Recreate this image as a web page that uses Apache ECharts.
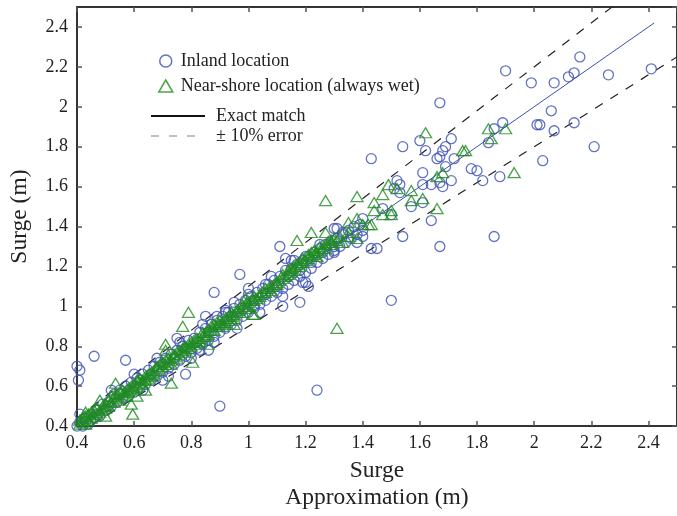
<!DOCTYPE html>
<html>
<head>
<meta charset="utf-8">
<script src="https://cdn.jsdelivr.net/npm/echarts@6/dist/echarts.min.js"></script>
<style>
  html, body { margin: 0; padding: 0; background: #fff; }
  #chart { width: 677px; height: 516px; }
</style>
</head>
<body>
<div id="chart"></div>
<script>
// Surge from the full model (y) against the approximation (x), in metres.

// Inland gauges: points scattered off the 1:1 line
const inlandSparse = [
  [1.90,2.18],[2.16,2.25],[1.99,2.12],[2.07,2.12],[2.12,2.15],[2.14,2.17],[2.26,2.16],[2.41,2.19],
  [2.06,1.98],[1.89,1.92],[2.01,1.91],[2.02,1.91],[2.07,1.88],[2.14,1.92],[2.21,1.80],[2.03,1.73],
  [1.86,1.89],[1.84,1.82],[1.82,1.63],[1.88,1.65],[1.86,1.35],[1.80,1.68],
  [1.67,2.02],[1.43,1.74],[1.54,1.80],[1.60,1.83],[1.62,1.78],[1.71,1.84],[1.69,1.80],[1.68,1.78],
  [1.66,1.74],[1.67,1.75],[1.72,1.74],[1.69,1.70],[1.61,1.67],[1.78,1.69],[1.71,1.63],[1.64,1.61],
  [1.67,1.62],[1.68,1.60],[1.61,1.61],[1.52,1.63],[1.51,1.59],[1.53,1.61],[1.53,1.57],[1.61,1.52],
  [1.57,1.50],[1.64,1.43],[1.47,1.49],[1.50,1.46],[1.54,1.35],[1.67,1.30],[1.40,1.44],[1.30,1.39],
  [1.33,1.37],[1.43,1.29],[1.45,1.29],[1.30,1.27],
  [1.11,1.30],[0.97,1.16],[0.88,1.07],[1.38,1.32],[1.40,1.35],[1.31,1.39],[1.25,1.31],[1.18,1.02],
  [1.12,1.00],[1.50,1.03],[1.00,1.09],[1.06,1.11],[1.15,1.23],[1.13,1.24],[1.20,1.25],[1.21,1.10],
  [1.19,1.12],[0.46,0.75],[0.57,0.73],[0.40,0.70],[0.41,0.68],[0.405,0.63],[0.90,0.50],[0.78,0.66],
  [0.85,0.95],[0.75,0.84],[0.92,0.97],[0.89,0.95],[0.95,1.02],[1.02,1.00],[0.70,0.63],[0.86,0.78],
  [0.83,0.78],[0.41,0.46],[1.24,0.58]
];

// Inland gauges: the dense band along the 1:1 line
const inlandBand = [
  [0.40,0.40],[0.41,0.42],[0.42,0.40],[0.43,0.44],[0.44,0.41],[0.45,0.46],[0.46,0.44],[0.47,0.48],
  [0.48,0.45],[0.49,0.51],[0.50,0.48],[0.51,0.52],[0.52,0.50],[0.53,0.56],[0.54,0.52],[0.55,0.58],
  [0.56,0.54],[0.57,0.60],[0.58,0.55],[0.59,0.62],[0.60,0.57],[0.61,0.64],[0.62,0.59],[0.63,0.66],
  [0.64,0.61],[0.65,0.68],[0.66,0.63],[0.67,0.70],[0.68,0.65],[0.69,0.72],[0.70,0.67],[0.71,0.74],
  [0.72,0.69],[0.73,0.76],[0.74,0.71],[0.75,0.78],[0.76,0.73],[0.77,0.80],[0.78,0.75],[0.79,0.83],
  [0.80,0.77],[0.81,0.84],[0.82,0.79],[0.83,0.87],[0.84,0.81],[0.85,0.89],[0.86,0.83],[0.87,0.91],
  [0.88,0.85],[0.89,0.93],[0.90,0.87],[0.91,0.95],[0.92,0.89],[0.93,0.97],[0.94,0.91],[0.95,0.99],
  [0.96,0.93],[0.97,1.01],[0.98,0.95],[0.99,1.03],[1.00,0.97],[1.01,1.05],[1.02,0.99],[1.03,1.07],
  [1.04,1.01],[1.05,1.09],[1.06,1.03],[1.07,1.11],[1.08,1.05],[1.09,1.13],[1.10,1.07],[1.11,1.15],
  [1.12,1.09],[1.13,1.18],[1.14,1.11],[1.15,1.19],[1.16,1.13],[1.17,1.21],[1.18,1.15],[1.19,1.23],
  [1.20,1.17],[1.21,1.25],[1.22,1.19],[1.23,1.27],[1.24,1.22],[1.25,1.29],[1.26,1.24],[1.27,1.31],
  [1.28,1.26],[1.29,1.33],[1.30,1.28],[1.31,1.34],[1.32,1.30],[1.33,1.36],[1.34,1.32],[1.35,1.38],
  [1.36,1.34],[1.37,1.40],[1.38,1.36],[1.39,1.41],[1.40,1.38],
  [0.43,0.42],[0.47,0.46],[0.51,0.50],[0.55,0.56],[0.58,0.58],[0.62,0.63],[0.66,0.66],[0.70,0.71],
  [0.74,0.74],[0.78,0.79],[0.82,0.82],[0.86,0.87],[0.90,0.90],[0.94,0.95],[0.98,0.98],[1.02,1.03],
  [1.06,1.06],[1.10,1.10],[1.14,1.15],[1.18,1.18],[1.22,1.22],[1.26,1.27],[1.30,1.30],
  [0.52,0.58],[0.60,0.66],[0.63,0.58],[0.68,0.74],[0.72,0.65],[0.76,0.82],[0.80,0.74],[0.84,0.91],
  [0.88,0.82],[0.92,0.98],[0.96,0.89],[1.00,1.06],[1.04,0.97],[1.08,1.15],[1.12,1.05],[1.16,1.23],
  [1.20,1.12]
];

// Near-shore gauges (always wet): points off the band
const shoreSparse = [
  [1.84,1.89],[1.90,1.89],[1.85,1.84],[1.93,1.67],[1.62,1.87],[1.75,1.78],[1.76,1.78],[1.66,1.65],
  [1.68,1.67],[1.49,1.61],[1.52,1.59],[1.57,1.58],[1.38,1.55],[1.47,1.56],[1.44,1.52],[1.57,1.53],
  [1.61,1.54],[1.44,1.48],[1.47,1.46],[1.50,1.48],[1.50,1.46],[1.66,1.49],[1.35,1.42],[1.38,1.44],
  [1.40,1.41],[1.42,1.41],[1.35,1.37],[1.35,1.35],[1.38,1.34],[1.33,1.32],[1.29,1.32],
  [1.27,1.53],[1.22,1.37],[1.17,1.33],[1.27,1.37],[1.43,1.41],[1.31,0.89],
  [0.79,0.97],[0.77,0.90],[0.535,0.615],[0.73,0.615],[0.59,0.51],[0.595,0.46],[0.86,0.81],
  [0.805,0.72],[0.71,0.81],[0.64,0.58],[0.61,0.55],[0.48,0.53],[0.43,0.47],[0.50,0.45],[1.015,0.96],
  [0.99,1.04],[1.02,0.96],[0.95,0.91],[0.71,0.78]
];

// Near-shore gauges: the tight band along the 1:1 line
const shoreBand = [
  [0.41,0.41],[0.41,0.43],[0.42,0.42],[0.42,0.44],[0.43,0.41],[0.43,0.45],[0.44,0.43],[0.44,0.46],
  [0.45,0.44],[0.45,0.47],[0.46,0.45],[0.46,0.48],[0.47,0.46],[0.47,0.49],[0.48,0.47],[0.49,0.50],
  [0.49,0.48],[0.50,0.51],[0.50,0.49],[0.51,0.53],[0.51,0.50],[0.52,0.52],[0.52,0.55],[0.53,0.52],
  [0.53,0.55],[0.54,0.54],[0.54,0.56],[0.55,0.53],[0.55,0.57],[0.56,0.56],[0.56,0.58],[0.57,0.57],
  [0.57,0.55],[0.58,0.59],[0.58,0.57],[0.59,0.60],[0.59,0.58],[0.60,0.61],[0.60,0.59],[0.61,0.63],
  [0.61,0.60],[0.62,0.62],[0.62,0.64],[0.63,0.63],[0.63,0.61],[0.64,0.65],[0.64,0.63],[0.65,0.66],
  [0.65,0.64],[0.66,0.67],[0.66,0.65],[0.67,0.68],[0.67,0.66],[0.68,0.69],[0.68,0.70],[0.69,0.68],
  [0.69,0.71],[0.70,0.70],[0.70,0.72],[0.71,0.71],[0.71,0.73],[0.72,0.72],[0.72,0.74],[0.73,0.73],
  [0.73,0.71],[0.74,0.75],[0.74,0.76],[0.75,0.74],[0.75,0.77],[0.76,0.76],[0.76,0.78],[0.77,0.77],
  [0.77,0.79],[0.78,0.78],[0.78,0.80],[0.79,0.79],[0.79,0.81],[0.80,0.80],[0.80,0.82],[0.81,0.81],
  [0.81,0.83],[0.82,0.82],[0.82,0.84],[0.83,0.84],[0.83,0.82],[0.84,0.85],[0.84,0.87],[0.85,0.85],
  [0.85,0.87],[0.86,0.86],[0.86,0.88],[0.87,0.88],[0.87,0.90],[0.88,0.88],[0.88,0.91],[0.89,0.90],
  [0.89,0.92],[0.90,0.91],[0.90,0.93],[0.91,0.92],[0.91,0.90],[0.92,0.94],[0.92,0.92],[0.93,0.95],
  [0.93,0.93],[0.94,0.95],[0.94,0.97],[0.95,0.96],[0.95,0.94],[0.96,0.98],[0.96,0.97],[0.97,0.99],
  [0.97,0.97],[0.98,1.00],[0.99,1.01],[0.99,0.99],[1.00,1.02],[1.00,1.00],[1.01,1.03],[1.02,1.03],
  [1.02,1.05],[1.03,1.04],[1.04,1.06],[1.04,1.05],[1.05,1.07],[1.06,1.07],[1.06,1.09],[1.07,1.09],
  [1.08,1.10],[1.08,1.08],[1.09,1.11],[1.10,1.12],[1.10,1.11],[1.11,1.13],[1.12,1.14],[1.12,1.16],
  [1.13,1.15],[1.14,1.16],[1.14,1.18],[1.15,1.17],[1.15,1.19],[1.16,1.18],[1.16,1.20],[1.17,1.21],
  [1.18,1.20],[1.18,1.22],[1.19,1.22],[1.19,1.24],[1.20,1.23],[1.21,1.24],[1.21,1.26],[1.22,1.25],
  [1.22,1.27],[1.23,1.26],[1.23,1.28],[1.24,1.27],[1.24,1.25],[1.25,1.28],[1.25,1.30],[1.26,1.29],
  [1.27,1.31],[1.27,1.29],[1.28,1.32],[1.29,1.33],[1.29,1.31],[1.30,1.34],[1.31,1.33],[1.32,1.35]
];

// Reference lines: exact match and the ±10% envelope
const exactLine = [[0.40,0.40],[2.42,2.42]];
const upperLine = [[0.40,0.44],[2.50,2.75]];
const lowerLine = [[0.40,0.36],[2.50,2.25]];

const BLUE = '#3c50b4';
const GREEN = '#1e8c1e';
const SERIF = '"Liberation Serif", "DejaVu Serif", serif';

const axisLine = { show: true, lineStyle: { color: '#333', width: 2 } };
const axisTick = { show: true, inside: true, length: 5, lineStyle: { color: '#555', width: 1.5 } };
const tickLabel = { fontFamily: SERIF, fontSize: 18, color: '#222' };
const hiddenSymbol = { color: 'rgba(0,0,0,0)', borderColor: 'rgba(0,0,0,0)', borderWidth: 0 };

const chart = echarts.init(document.getElementById('chart'), null, { renderer: 'canvas' });
chart.setOption({
  animation: false,
  backgroundColor: '#fff',
  grid: { left: 73, top: 7, width: 610, height: 426 },
  xAxis: [
    {
      type: 'value', min: 0.4, max: 2.5, interval: 0.2, position: 'bottom',
      axisLine, axisTick, splitLine: { show: false },
      axisLabel: Object.assign({ margin: 8, showMaxLabel: false }, tickLabel),
      name: 'Surge\nApproximation (m)', nameLocation: 'middle', nameGap: 23,
      nameTextStyle: { fontFamily: SERIF, fontSize: 23.5, color: '#222', lineHeight: 27 }
    },
    {
      type: 'value', min: 0.4, max: 2.5, interval: 0.2, position: 'top',
      axisLine, axisTick, splitLine: { show: false }, axisLabel: { show: false }
    }
  ],
  yAxis: [
    {
      type: 'value', min: 0.4, max: 2.5, interval: 0.2, position: 'left',
      axisLine, axisTick, splitLine: { show: false },
      axisLabel: Object.assign({ margin: 9, showMaxLabel: false }, tickLabel),
      name: 'Surge (m)', nameLocation: 'middle', nameGap: 45,
      nameTextStyle: { fontFamily: SERIF, fontSize: 23.5, color: '#222' }
    },
    {
      type: 'value', min: 0.4, max: 2.5, interval: 0.2, position: 'right',
      axisLine, axisTick, splitLine: { show: false }, axisLabel: { show: false }
    }
  ],
  legend: [
    {
      orient: 'vertical', left: 153, top: 47, itemGap: 7, itemWidth: 14, itemHeight: 12,
      selectedMode: false,
      textStyle: { fontFamily: SERIF, fontSize: 18, color: '#222', padding: [0, 0, 0, 3] },
      data: [
        { name: 'Inland location', itemStyle: { color: 'rgba(0,0,0,0)', borderColor: BLUE, borderWidth: 1.5 } },
        { name: 'Near-shore location (always wet)', itemStyle: { color: 'rgba(0,0,0,0)', borderColor: GREEN, borderWidth: 1.5 } }
      ]
    },
    {
      orient: 'vertical', left: 145, top: 102, itemGap: 2, itemWidth: 54, itemHeight: 12,
      selectedMode: false,
      textStyle: { fontFamily: SERIF, fontSize: 18, color: '#222', padding: [0, 0, 0, 6] },
      data: [
        { name: 'Exact match', itemStyle: hiddenSymbol, lineStyle: { color: '#111', width: 2, type: 'solid' } },
        { name: '± 10% error', itemStyle: hiddenSymbol, lineStyle: { color: '#aaa', width: 1.5, type: [8, 10] } }
      ]
    }
  ],
  series: [
    {
      name: '± 10% error', type: 'line', data: upperLine, symbol: 'none', silent: true,
      lineStyle: { color: '#222', width: 1.2, type: [9, 9] }, z: 1
    },
    {
      name: '± 10% error', type: 'line', data: lowerLine, symbol: 'none', silent: true,
      lineStyle: { color: '#222', width: 1.2, type: [9, 9] }, z: 1
    },
    {
      name: 'Exact match', type: 'line', data: exactLine, symbol: 'none', silent: true,
      lineStyle: { color: BLUE, width: 1 }, z: 1
    },
    {
      name: 'Inland location', type: 'scatter', symbol: 'circle', symbolSize: 10,
      data: inlandSparse.concat(inlandBand),
      itemStyle: { color: 'rgba(0,0,0,0)', borderColor: BLUE, borderWidth: 1.3 }, z: 2
    },
    {
      name: 'Near-shore location (always wet)', type: 'scatter', symbol: 'triangle', symbolSize: [12, 10],
      data: shoreSparse.concat(shoreBand),
      itemStyle: { color: 'rgba(0,0,0,0)', borderColor: GREEN, borderWidth: 1.3 }, z: 3
    }
  ]
});
</script>
</body>
</html>
